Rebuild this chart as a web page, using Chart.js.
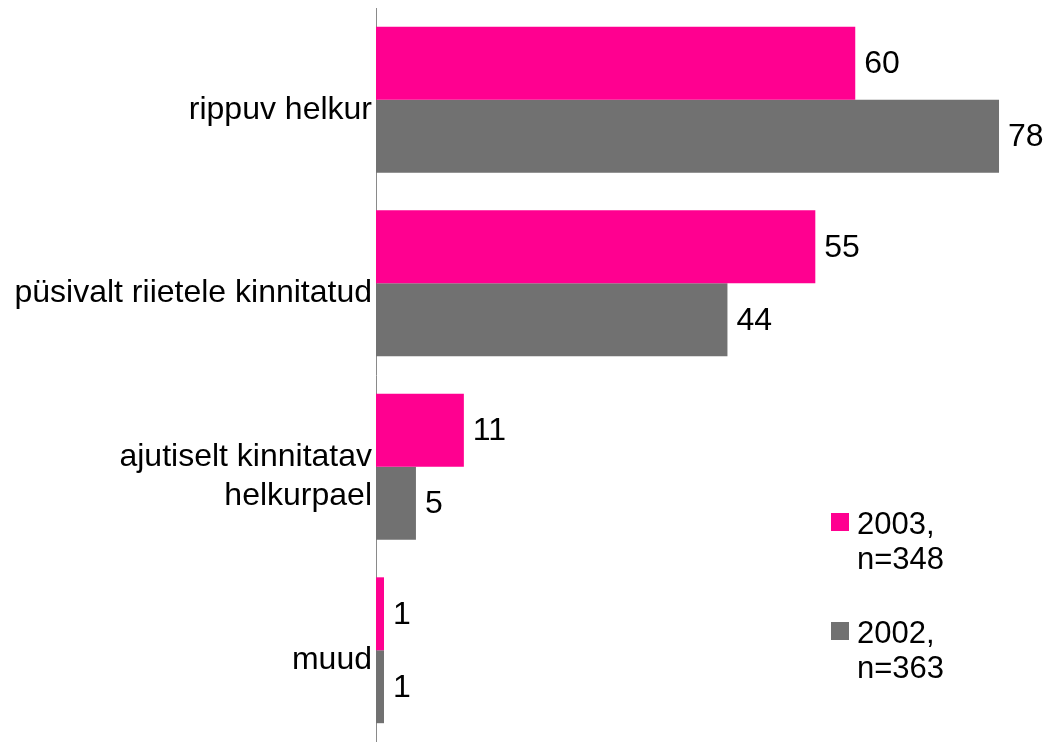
<!DOCTYPE html>
<html>
<head>
<meta charset="utf-8">
<script src="https://cdn.jsdelivr.net/npm/chart.js@4/dist/chart.umd.min.js"></script>
<style>
  html,body{margin:0;padding:0;background:#fff;}
  #wrap{width:1050px;height:742px;position:relative;}
</style>
</head>
<body>
<div id="wrap"><canvas id="c"></canvas></div>
<script>
'use strict';

// data
const categories=[['rippuv helkur'],['püsivalt riietele kinnitatud'],['ajutiselt kinnitatav','helkurpael'],['muud']];
const values2003=[60,55,11,1];
const values2002=[78,44,5,1];
const seriesNames=[['2003,','n=348'],['2002,','n=363']];

const PINK='#FF0090', GREY='#717171';
const FONT='"Liberation Sans", Arial, sans-serif';

// value labels at bar ends
const valueLabels={
  id:'valueLabels',
  afterDatasetsDraw(chart){
    const ctx=chart.ctx;
    ctx.save();
    ctx.font='32px '+FONT; ctx.fillStyle='#000';
    ctx.textAlign='left'; ctx.textBaseline='middle';
    chart.data.datasets.forEach((ds,di)=>{
      chart.getDatasetMeta(di).data.forEach((bar,i)=>{
        ctx.fillText(String(ds.data[i]),bar.x+9,bar.y+1);
      });
    });
    ctx.restore();
  }
};

// legend on the right, two-line entries
const sideLegend={
  id:'sideLegend',
  afterDraw(chart){
    const ctx=chart.ctx;
    ctx.save();
    ctx.font='31px '+FONT; ctx.textBaseline='middle'; ctx.textAlign='left';
    const cols=[PINK,GREY], tops=[513,622];
    seriesNames.forEach((lines,i)=>{
      ctx.fillStyle=cols[i];
      ctx.fillRect(831,tops[i],18,18);
      ctx.fillStyle='#000';
      lines.forEach((t,j)=>ctx.fillText(t,857,tops[i]+12+j*35));
    });
    ctx.restore();
  }
};

new Chart(document.getElementById('c'),{
  type:'bar',
  data:{labels:categories,datasets:[
    {label:'2003',data:values2003,backgroundColor:PINK,categoryPercentage:0.795,barPercentage:1.0},
    {label:'2002',data:values2002,backgroundColor:GREY,categoryPercentage:0.795,barPercentage:1.0}
  ]},
  options:{
    indexAxis:'y',responsive:true,maintainAspectRatio:false,animation:false,
    layout:{padding:{top:8,bottom:-2,right:35,left:0}},
    plugins:{legend:{display:false},tooltip:{enabled:false}},
    scales:{
      x:{min:0,max:80,display:false,grid:{display:false}},
      y:{
        grid:{display:false,drawTicks:false},
        border:{display:true,color:'#8a8a8a',width:1},
        ticks:{color:'#000',font:{family:FONT,size:32},padding:4,labelOffset:10},
        afterFit(s){s.width=376;s.paddingTop=0;s.paddingBottom=0;}
      }
    }
  },
  plugins:[valueLabels,sideLegend]
});
</script>
</body>
</html>
